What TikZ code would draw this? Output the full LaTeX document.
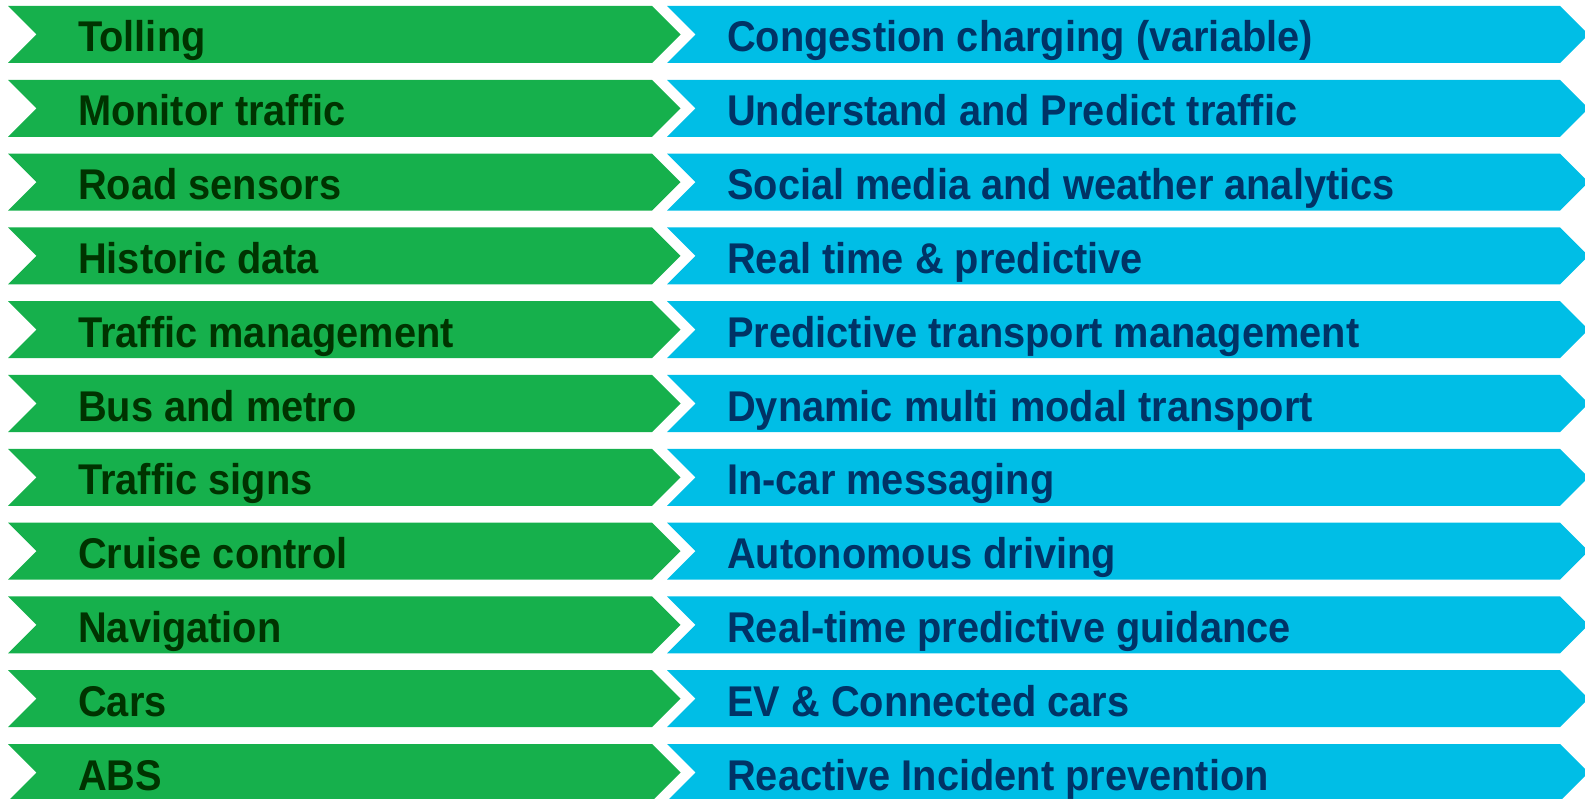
\documentclass[tikz,border=0pt]{standalone}
\usepackage{fontspec}
\setmainfont{Liberation Sans}[FakeStretch=0.925]
\definecolor{rowgreen}{RGB}{22,176,76}
\definecolor{rowblue}{RGB}{0,190,230}
\definecolor{darkgreen}{RGB}{0,51,0}
\definecolor{darkblue}{RGB}{0,51,102}
\tikzset{
  oldlabel/.style={anchor=base west, inner sep=0pt, text=darkgreen, font=\fontsize{43}{50}\selectfont\bfseries},
  newlabel/.style={oldlabel, text=darkblue}
}
\begin{document}
\begin{tikzpicture}[x=1pt,y=-1pt]
    \useasboundingbox (0,0) rectangle (1585,799);
    \clip (0,0) rectangle (1585,799);
\foreach \l/\r [count=\i from 0] in {Tolling/Congestion charging (variable),
    Monitor traffic/Understand and Predict traffic,
    Road sensors/Social media and weather analytics,
    Historic data/Real time \& predictive,
    Traffic management/Predictive transport management,
    Bus and metro/Dynamic multi modal transport,
    Traffic signs/In-car messaging,
    Cruise control/Autonomous driving,
    Navigation/Real-time predictive guidance,
    Cars/EV \& Connected cars,
    ABS/Reactive Incident prevention}
{
    \pgfmathsetmacro\t{6+73.8*\i}
    % green chevron, then the blue one nested in its tip
    \fill[rowgreen](8,\t)--(652,\t)--(680.5,\t+28.5)--(652,\t+57)--(8,\t+57)--(36.5,\t+28.5)--cycle;
    \fill[rowblue](667,\t)--(1560,\t)--(1588.5,\t+28.5)--(1560,\t+57)--(667,\t+57)--(695.5,\t+28.5)--cycle;
    \node[oldlabel] (old\i) at (78,\t+46) {\l};
    \node[newlabel] (new\i) at (727,\t+46) {\r};
}
\end{tikzpicture}
\end{document}
